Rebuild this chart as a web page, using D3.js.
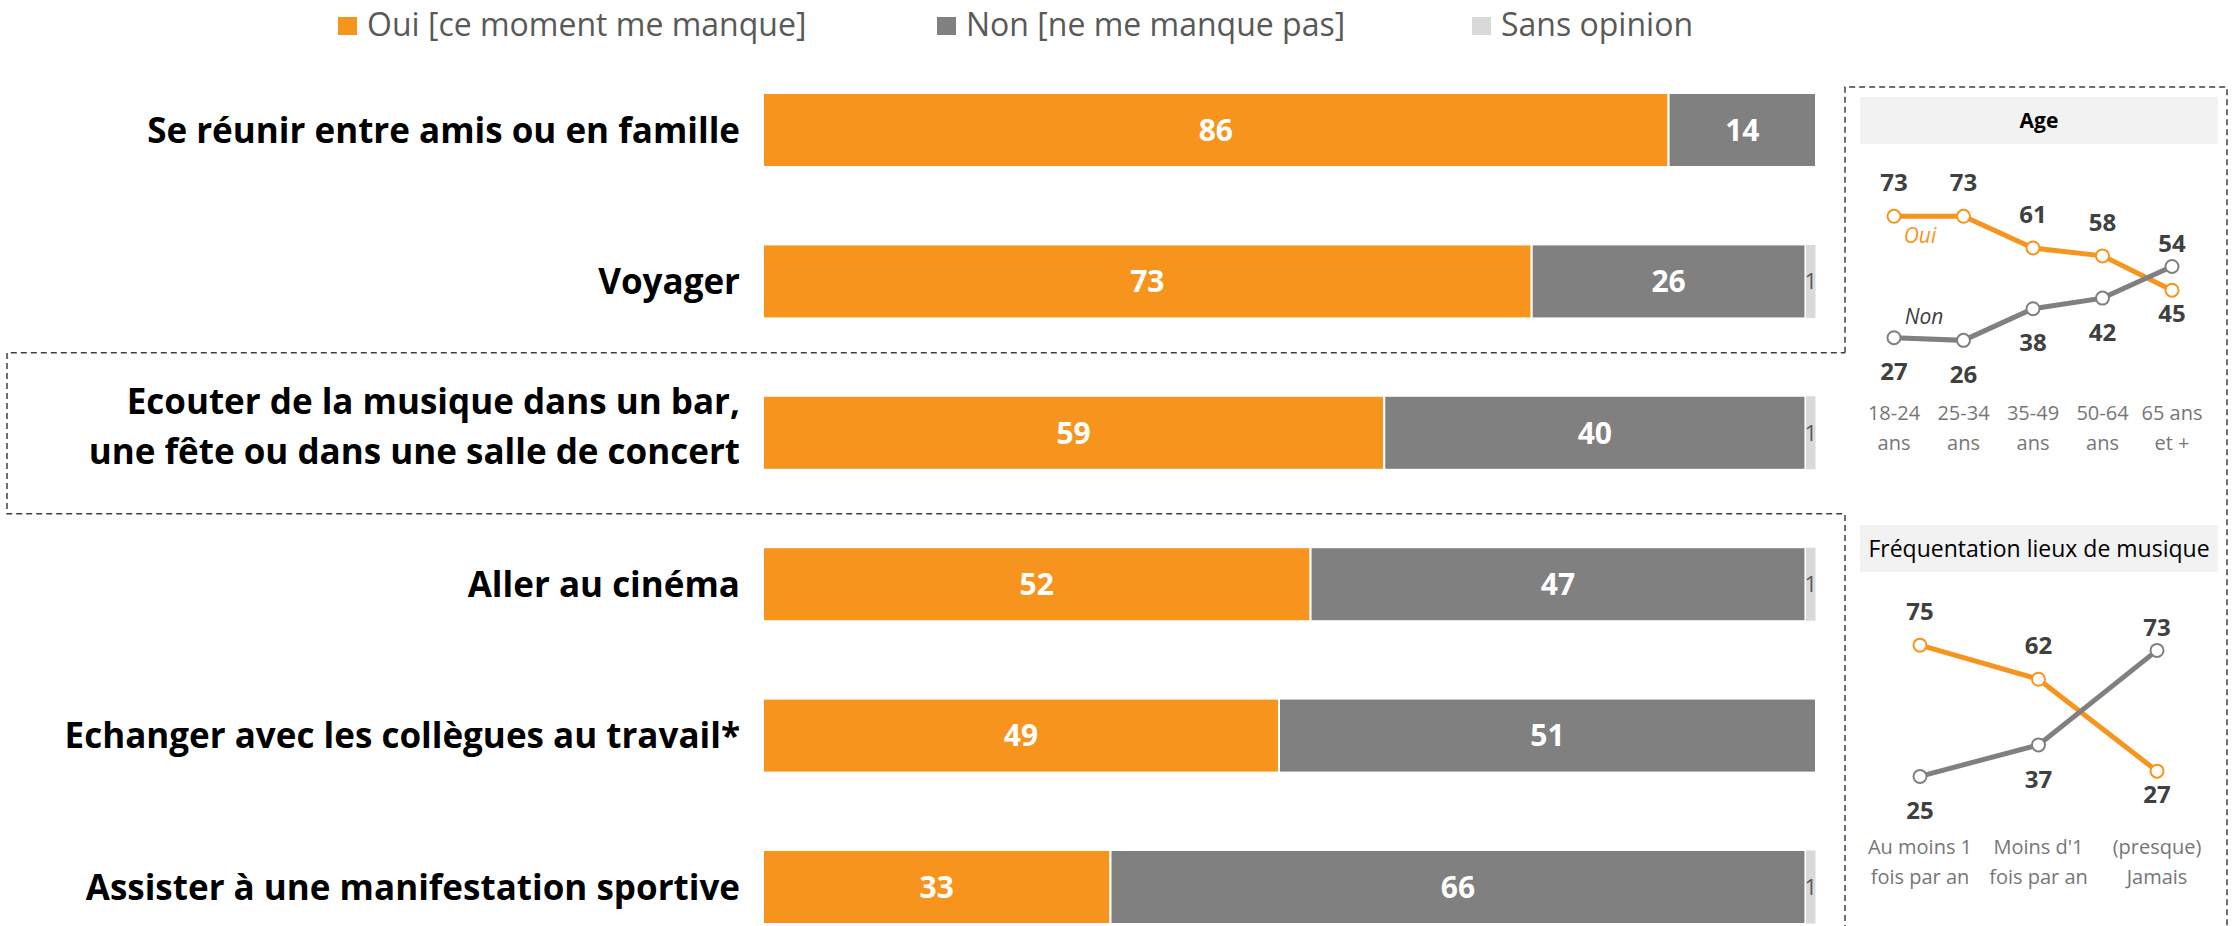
<!DOCTYPE html>
<html>
<head>
<meta charset="utf-8">
<script src="https://cdn.jsdelivr.net/npm/d3@7"></script>
<style>
  body { margin: 0; background: #fff; }
  text { font-family: "Open Sans", sans-serif; }
</style>
</head>
<body>
<div class="visHolder"></div>
<script>
// activities and their answers (%)
var activities = [
  ["Se réunir entre amis ou en famille"],
  ["Voyager"],
  ["Ecouter de la musique dans un bar,", "une fête ou dans une salle de concert"],
  ["Aller au cinéma"],
  ["Echanger avec les collègues au travail*"],
  ["Assister à une manifestation sportive"]
];
var ouiValues = [86, 73, 59, 52, 49, 33];
var nonValues = [14, 26, 40, 47, 51, 66];
var sansValues = [0, 1, 1, 1, 0, 1];

var legendLabels = ["Oui [ce moment me manque]", "Non [ne me manque pas]", "Sans opinion"];

// side panel: age
var ageCategories = [["18-24", "ans"], ["25-34", "ans"], ["35-49", "ans"], ["50-64", "ans"], ["65 ans", "et +"]];
var ageOui = [73, 73, 61, 58, 45];
var ageNon = [27, 26, 38, 42, 54];

// side panel: music venue attendance
var freqCategories = [["Au moins 1", "fois par an"], ["Moins d'1", "fois par an"], ["(presque)", "Jamais"]];
var freqOui = [75, 62, 27];
var freqNon = [25, 37, 73];

var width = 2236,
  height = 926;

var orange = "#F7941D",
  grey = "#808080",
  light = "#D9D9D9";

var svg = d3.select(".visHolder").append("svg").attr("width", width).attr("height", height);

// ---------- legend ----------
var legendX = [338, 937, 1472];
var legendColors = [orange, grey, light];
var legend = svg.selectAll(".legend").data(legendLabels).enter().append("g")
  .attr("class", "legend")
  .attr("transform", (d, i) => "translate(" + legendX[i] + ",0)");
legend.append("rect").attr("x", 0).attr("y", 17).attr("width", 19).attr("height", 18)
  .style("fill", (d, i) => legendColors[i]);
legend.append("text").attr("x", 29).attr("y", 36)
  .style("font-size", "32px").style("fill", "#595959")
  .text(d => d);

// ---------- stacked bars ----------
var keys = activities.map(d => d.join(" "));
var yScale = d3.scaleBand().domain(keys).range([93, 924]).paddingInner(0.511).paddingOuter(0);
var xScale = d3.scaleLinear().domain([0, 100]).range([763, 1816]);

var rows = keys.map((k, i) => ({ key: k, lines: activities[i], oui: ouiValues[i], non: nonValues[i], sans: sansValues[i] }));

// dashed highlight around the music row and the side panel
var musicY = yScale(keys[2]) + yScale.bandwidth() / 2;
var panelLeft = 1845, panelRight = 2227, panelTop = 87;
svg.append("path")
  .attr("d",
    "M" + panelLeft + "," + (musicY - 80) + "V" + panelTop + "H" + panelRight + "V" + (height + 5) +
    "M" + panelLeft + "," + (height + 5) + "V" + (musicY + 81) + "H7V" + (musicY - 80) + "H" + panelLeft)
  .style("fill", "none").style("stroke", "#404040").style("stroke-width", 1.5).style("stroke-dasharray", "6,4");

var bar = svg.selectAll(".bar").data(rows).enter().append("g").attr("class", "bar")
  .attr("transform", d => "translate(0," + yScale(d.key) + ")");

var h = yScale.bandwidth();
bar.append("rect").attr("x", d => xScale(0)).attr("y", 0)
  .attr("width", d => xScale(d.oui) - xScale(0)).attr("height", h)
  .style("fill", orange).style("stroke", "#fff").style("stroke-width", 2);
bar.append("rect").attr("x", d => xScale(d.oui)).attr("y", 0)
  .attr("width", d => xScale(d.oui + d.non) - xScale(d.oui)).attr("height", h)
  .style("fill", grey).style("stroke", "#fff").style("stroke-width", 2);
bar.filter(d => d.sans > 0).append("rect").attr("x", d => xScale(d.oui + d.non)).attr("y", 0)
  .attr("width", d => xScale(d.oui + d.non + d.sans) - xScale(d.oui + d.non)).attr("height", h)
  .style("fill", light).style("stroke", "#fff").style("stroke-width", 1);

bar.append("text")
  .attr("x", d => (xScale(0) + xScale(d.oui)) / 2).attr("y", h / 2).attr("dy", "0.36em")
  .style("text-anchor", "middle").style("font-size", "30px").style("font-weight", "bold").style("fill", "#fff")
  .text(d => d.oui);
bar.append("text")
  .attr("x", d => (xScale(d.oui) + xScale(d.oui + d.non)) / 2).attr("y", h / 2).attr("dy", "0.36em")
  .style("text-anchor", "middle").style("font-size", "30px").style("font-weight", "bold").style("fill", "#fff")
  .text(d => d.non);
bar.filter(d => d.sans > 0).append("text")
  .attr("x", d => (xScale(d.oui + d.non) + xScale(100)) / 2).attr("y", h / 2).attr("dy", "0.36em")
  .style("text-anchor", "middle").style("font-size", "22px").style("fill", "#595959")
  .text(d => d.sans);

// activity labels
bar.each(function (d) {
  var t = d3.select(this).append("text")
    .attr("x", 740)
    .style("text-anchor", "end").style("font-size", "35px").style("font-weight", "bold").style("fill", "#000");
  var n = d.lines.length;
  d.lines.forEach(function (line, j) {
    t.append("tspan").attr("x", 740)
      .attr("y", h / 2 + (j - (n - 1) / 2) * 50 - (n > 1 ? 6 : 0))
      .attr("dy", "0.36em")
      .text(line);
  });
});

// ---------- side panel line charts ----------
function smallChart(opts) {
  var g = svg.append("g");
  g.append("rect").attr("x", 1860).attr("y", opts.headerY).attr("width", 358).attr("height", 47)
    .style("fill", "#F2F2F2");
  g.append("text").attr("x", 2039).attr("y", opts.headerY + 23.5).attr("dy", "0.36em")
    .style("text-anchor", "middle").style("font-size", opts.titleSize)
    .style("font-weight", opts.boldTitle ? "bold" : "normal").style("fill", "#000")
    .text(opts.title);

  var names = opts.categories.map(c => c.join(" "));
  var x = d3.scalePoint().domain(names).range(opts.xRange);
  var y = d3.scaleLinear().domain([0, 100]).range(opts.yRange);

  var series = [
    { values: opts.oui, other: opts.non, color: orange, isOui: true },
    { values: opts.non, other: opts.oui, color: grey, isOui: false }
  ];
  var line = d3.line().x((d, i) => x(names[i])).y(d => y(d));

  series.forEach(function (s) {
    g.append("path").datum(s.values).attr("d", line)
      .style("fill", "none").style("stroke", s.color).style("stroke-width", 5);
    g.selectAll(null).data(s.values).enter().append("circle")
      .attr("cx", (d, i) => x(names[i])).attr("cy", d => y(d)).attr("r", 6.5)
      .style("fill", "#fff").style("stroke", s.color).style("stroke-width", 2);
    g.selectAll(null).data(s.values).enter().append("text")
      .attr("x", (d, i) => x(names[i]))
      .attr("y", function (d, i) {
        var above = d >= s.other[i];
        var swapped = above !== s.isOui;
        var dist = swapped ? 23 : 34;
        return y(d) + (above ? -dist : dist);
      })
      .attr("dy", "0.36em")
      .style("text-anchor", "middle").style("font-size", "24px").style("font-weight", "bold").style("fill", "#404040")
      .text(d => d);
  });

  opts.categories.forEach(function (c, i) {
    c.forEach(function (part, j) {
      g.append("text").attr("x", x(names[i])).attr("y", opts.labelY + j * 30).attr("dy", "0.36em")
        .style("text-anchor", "middle").style("font-size", "20px").style("fill", "#767676")
        .text(part);
    });
  });
  return { g: g, x: x, y: y, names: names };
}

var age = smallChart({
  title: "Age", boldTitle: true, titleSize: "21px", headerY: 97,
  categories: ageCategories, oui: ageOui, non: ageNon,
  xRange: [1894, 2172], yRange: [409, 145], labelY: 413
});
age.g.append("text").attr("x", age.x(age.names[0]) + 26).attr("y", age.y(ageOui[0]) + 19).attr("dy", "0.36em")
  .style("text-anchor", "middle").style("font-size", "21px").style("font-style", "italic").style("fill", orange)
  .text("Oui");
age.g.append("text").attr("x", age.x(age.names[0]) + 30).attr("y", age.y(ageNon[0]) - 21).attr("dy", "0.36em")
  .style("text-anchor", "middle").style("font-size", "21px").style("font-style", "italic").style("fill", "#404040")
  .text("Non");

smallChart({
  title: "Fréquentation lieux de musique", boldTitle: false, titleSize: "23px", headerY: 525,
  categories: freqCategories, oui: freqOui, non: freqNon,
  xRange: [1920, 2157], yRange: [842, 579.5], labelY: 847
});
</script>
</body>
</html>
